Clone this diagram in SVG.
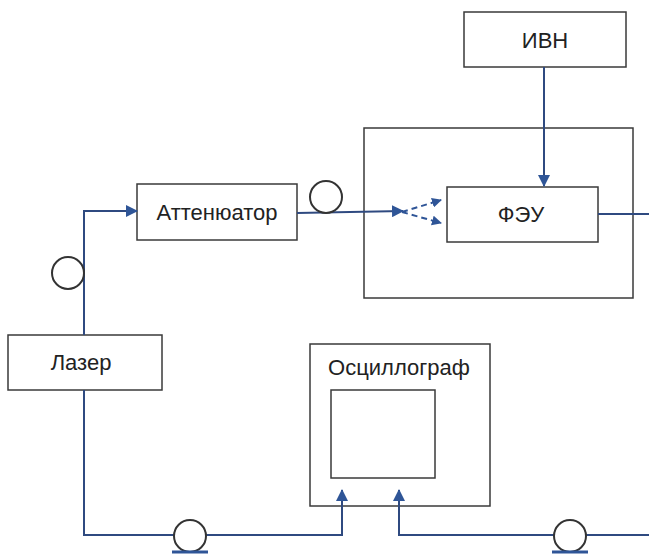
<svg xmlns="http://www.w3.org/2000/svg" width="649" height="554" viewBox="0 0 649 554">
<style>
.box{fill:#fff;stroke:#3a3a3a;stroke-width:1.5}
.frame{fill:none;stroke:#3a3a3a;stroke-width:1.5}
.lbl{font-family:"Liberation Sans",Arial,sans-serif;font-size:22px;fill:#222;text-anchor:middle}
.ln{fill:none;stroke:#2f4a80;stroke-width:2}
.dash{fill:none;stroke:#2f5597;stroke-width:2;stroke-dasharray:6 4}
.coil{fill:#fff;stroke:#333;stroke-width:2}
.base{stroke:#2f5597;stroke-width:3}
</style>
<defs>
<marker id="ah" markerWidth="10" markerHeight="10" refX="9" refY="5" orient="auto" markerUnits="userSpaceOnUse" viewBox="0 0 10 10">
<path d="M0,0 L10,5 L0,10 z" fill="#2f5597"/>
</marker>
<marker id="ahb" markerWidth="12" markerHeight="12" refX="11" refY="6" orient="auto" markerUnits="userSpaceOnUse" viewBox="0 0 12 12">
<path d="M0,0 L12,6 L0,12 z" fill="#2f5597"/>
</marker>
</defs>

<g id="ivn">
<rect class="box" x="464" y="12" width="162" height="55"/>
<text class="lbl" x="545" y="48">ИВН</text>
</g>

<g id="feu-housing">
<rect class="frame" x="364" y="128" width="269" height="170"/>
</g>

<g id="feu">
<rect class="box" x="447" y="187" width="151" height="55"/>
<text class="lbl" x="521" y="222">ФЭУ</text>
</g>

<g id="attenuator">
<rect class="box" x="137" y="184" width="160" height="56"/>
<text class="lbl" x="217" y="220">Аттенюатор</text>
</g>

<g id="laser">
<rect class="box" x="8" y="335" width="154" height="55"/>
<text class="lbl" x="81" y="370">Лазер</text>
</g>

<g id="oscilloscope">
<rect class="box" x="310" y="344" width="180" height="162"/>
<text class="lbl" x="399" y="375">Осциллограф</text>
<rect class="box" x="331" y="390" width="104" height="88"/>
</g>

<g id="connectors">
<path class="ln" d="M544,67 V186" marker-end="url(#ahb)"/>
<path class="ln" d="M84,335 V211 H137" marker-end="url(#ahb)"/>
<path class="ln" d="M297,213 L403,211" marker-end="url(#ahb)"/>
<path class="dash" d="M402,212 L441,200" marker-end="url(#ah)"/>
<path class="dash" d="M402,212 L441,223" marker-end="url(#ah)"/>
<path class="ln" d="M598,214 H649"/>
<path class="ln" d="M84,390 V535 H342 V490" marker-end="url(#ahb)"/>
<path class="ln" d="M649,535 H399 V490" marker-end="url(#ahb)"/>
</g>

<g id="fiber-coils">
<circle class="coil" cx="326" cy="197" r="16"/>
<circle class="coil" cx="68" cy="273" r="16"/>
<circle class="coil" cx="190" cy="536" r="16"/>
<line class="base" x1="172" y1="552" x2="208" y2="552"/>
<circle class="coil" cx="570" cy="536" r="16"/>
<line class="base" x1="552" y1="552" x2="588" y2="552"/>
</g>
</svg>
